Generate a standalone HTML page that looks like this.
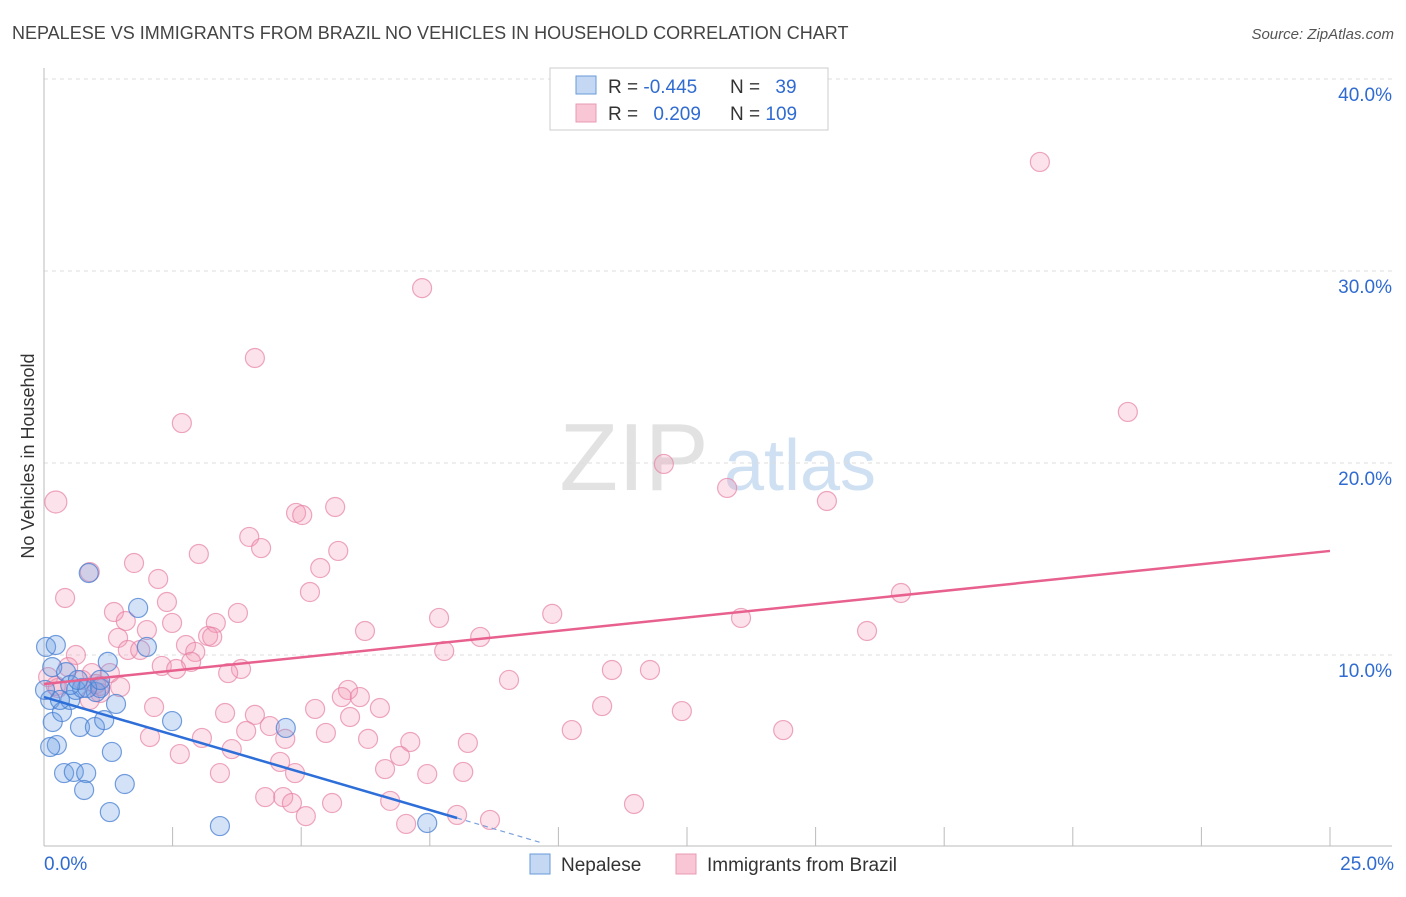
<!DOCTYPE html>
<html><head><meta charset="utf-8"><style>
body{margin:0;background:#fff;font-family:"Liberation Sans",sans-serif;}
svg text{font-family:"Liberation Sans",sans-serif;}
</style></head><body>
<svg width="1406" height="892" xmlns="http://www.w3.org/2000/svg">
<text x="12" y="39" font-size="18" fill="#444">NEPALESE VS IMMIGRANTS FROM BRAZIL NO VEHICLES IN HOUSEHOLD CORRELATION CHART</text>
<text x="1394" y="39" font-size="15" fill="#555" font-style="italic" text-anchor="end">Source: ZipAtlas.com</text>
<text x="634" y="490" font-size="96" fill="#e2e2e2" font-family="Liberation Serif, serif" text-anchor="middle">ZIP</text>
<text x="800" y="490" font-size="72" fill="#cfe0f3" text-anchor="middle">atlas</text>
<g id="grid"></g>
<g id="axes"></g>
<g id="marks"></g>
<g id="lines"></g>
<text transform="translate(34,456) rotate(-90)" font-size="18" fill="#333" text-anchor="middle">No Vehicles in Household</text>
<g>
<rect x="550" y="68" width="278" height="62" fill="#fff" stroke="#ccc"/>
<rect x="576" y="76" width="20" height="18" fill="#c4d8f4" stroke="#6a9ad8"/>
<rect x="576" y="104" width="20" height="18" fill="#f9c6d5" stroke="#e89ab4"/>
<text x="608" y="93" font-size="19" fill="#333">R = <tspan fill="#2f6bd0">-0.445</tspan></text>
<text x="730" y="93" font-size="19" fill="#333">N = <tspan fill="#2f6bd0" dx="10">39</tspan></text>
<text x="608" y="120" font-size="19" fill="#333">R = <tspan fill="#2f6bd0" dx="10">0.209</tspan></text>
<text x="730" y="120" font-size="19" fill="#333">N = <tspan fill="#2f6bd0">109</tspan></text>
</g>
<g>
<rect x="530" y="854" width="20" height="20" fill="#c4d8f4" stroke="#6a9ad8"/>
<text x="561" y="871" font-size="19" fill="#333">Nepalese</text>
<rect x="676" y="854" width="20" height="20" fill="#f9c6d5" stroke="#e89ab4"/>
<text x="707" y="871" font-size="19" fill="#333">Immigrants from Brazil</text>
</g>
</svg>
<script>
const yTicks=[10,20,30,40];
const yTickLabels=["10.0%","20.0%","30.0%","40.0%"];
const xTickLabels=["0.0%","25.0%"];
const blueX=[0.04,0.23,0.16,0.12,0.17,0.25,0.12,0.35,0.43,0.39,0.58,0.82,0.78,0.51,0.62,0.74,1.01,0.70,0.99,1.17,1.09,1.24,1.40,1.32,1.57,1.28,1.83,2.00,0.87,2.49,3.42,4.70,7.45,0.84,0.51,0.31,0.02,1.09,0.66];
const blueY=[10.42,10.52,9.37,7.66,6.51,5.31,5.21,7.03,9.11,3.85,3.91,3.85,2.97,7.66,8.18,8.28,8.07,6.25,6.25,6.61,8.28,9.64,7.45,4.95,3.28,1.82,12.45,10.42,14.27,6.56,1.09,6.20,1.25,8.28,8.44,7.66,8.18,8.70,8.70];
const pinkX=[19.36,7.35,4.10,21.07,2.68,12.05,13.28,15.22,0.23,5.66,4.90,5.02,3.99,4.22,5.72,3.01,1.75,5.37,0.89,2.22,5.17,16.66,0.41,2.39,1.36,3.77,9.88,13.55,7.68,1.59,3.34,2.49,2.00,6.24,16.0,1.44,3.19,8.48,3.27,2.76,1.63,1.87,7.78,2.94,0.62,2.86,2.29,0.47,2.57,11.04,11.78,3.83,0.93,1.28,3.58,0.08,0.74,1.01,9.04,0.27,1.48,5.91,1.09,5.79,6.14,0.89,2.14,5.27,6.53,10.85,12.40,3.52,4.10,5.95,4.39,3.93,10.26,14.37,5.48,2.06,3.07,4.69,6.30,7.12,8.24,3.65,6.92,2.64,4.59,6.63,3.42,4.88,7.45,8.15,4.30,4.65,4.82,5.60,6.73,11.47,5.09,8.03,8.67,7.04,1.09,0.23];
const pinkY=[35.68,29.11,25.47,22.66,22.08,19.95,18.70,18.02,17.97,17.71,17.40,17.29,16.15,15.57,15.42,15.26,14.79,14.53,14.32,13.96,13.28,13.23,12.97,12.76,12.24,12.19,12.14,11.93,11.93,11.77,11.67,11.67,11.30,11.25,11.25,10.89,10.99,10.94,10.94,10.52,10.26,10.26,10.21,10.16,10.0,9.64,9.43,9.37,9.27,9.22,9.22,9.27,9.06,9.06,9.06,8.85,8.70,8.49,8.70,8.28,8.33,8.18,8.02,7.81,7.81,7.66,7.29,7.19,7.24,7.34,7.08,6.98,6.88,6.77,6.30,6.04,6.09,6.09,5.94,5.73,5.68,5.63,5.63,5.47,5.42,5.10,4.74,4.84,4.43,4.06,3.85,3.85,3.80,3.91,2.60,2.60,2.29,2.29,2.40,2.24,1.61,1.67,1.41,1.20,8.39,8.39];
const pinkTrend=[8.49,15.42]; // y at x=0 and x=25
const blueTrend=[7.81,1.51,8.03,9.64]; // y0, y at xEnd, xEnd solid, xEnd dashed
const NS="http://www.w3.org/2000/svg";
const X=v=>44+v*51.44, Y=v=>847-v*19.2;
function mk(t,a,p){const e=document.createElementNS(NS,t);for(const k in a)e.setAttribute(k,a[k]);document.getElementById(p).appendChild(e);return e;}
yTicks.forEach((t,i)=>{
 const g=mk('line',{x1:44,x2:1392,y1:Y(t),y2:Y(t),stroke:'#ddd','stroke-dasharray':'4,4'},'grid');
 
 
 const l=mk('text',{x:1392,y:Y(t)+22,'font-size':19,fill:'#2f6bd0','text-anchor':'end'},'grid');
 l.textContent=yTickLabels[i];
 
 
});
const ya=mk('line',{x1:44,x2:44,y1:68,y2:846,stroke:'#bbb'},'axes');


const xa=mk('line',{x1:44,x2:1392,y1:846,y2:846,stroke:'#bbb'},'axes');


for(let i=0;i<=10;i++){
 const t=mk('line',{x1:X(i*2.5),x2:X(i*2.5),y1:827,y2:846,stroke:'#bbb'},'axes');
 
 
}
[[0,'start',44],[25,'end',1394]].forEach((d,i)=>{
 const l=mk('text',{x:d[2],y:870,'font-size':19,fill:'#2f6bd0','text-anchor':d[1]},'axes');
 l.textContent=xTickLabels[i];
 
 
});
pinkX.forEach((x,i)=>{
 const c=mk('circle',{cx:X(x),cy:Y(pinkY[i]),r:(i==8?11:9.5),fill:'rgba(244,150,180,0.28)',stroke:'rgba(230,130,165,0.7)','stroke-width':1.2},'marks');
 
 
});
blueX.forEach((x,i)=>{
 const c=mk('circle',{cx:X(x),cy:Y(blueY[i]),r:9.5,fill:'rgba(110,160,230,0.3)',stroke:'rgba(70,125,210,0.75)','stroke-width':1.2},'marks');
 
 
});
const pl=mk('line',{x1:X(0),y1:Y(pinkTrend[0]),x2:X(25),y2:Y(pinkTrend[1]),stroke:'#e8608e','stroke-width':2.5},'lines');


const slope=(blueTrend[1]-blueTrend[0])/blueTrend[2];
const bl=mk('line',{x1:X(0),y1:Y(blueTrend[0]),x2:X(blueTrend[2]),y2:Y(blueTrend[1]),stroke:'#2d6ed8','stroke-width':2.5},'lines');


const bd=mk('line',{x1:X(blueTrend[2]),y1:Y(blueTrend[1]),x2:X(blueTrend[3]),y2:Y(blueTrend[0]+slope*blueTrend[3]),stroke:'#7aa0dd','stroke-width':1.2,'stroke-dasharray':'5,4'},'lines');


</script>
</body></html>
